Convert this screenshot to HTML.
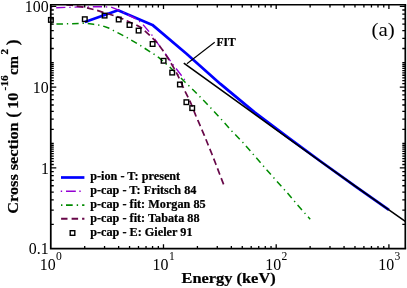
<!DOCTYPE html>
<html><head><meta charset="utf-8"><title>plot</title><style>html,body{margin:0;padding:0;background:#fff;overflow:hidden}body{width:407px;height:288px;position:relative}</style></head><body>
<svg width="407" height="288" viewBox="0 0 407 288" style="position:absolute;left:0;top:0;will-change:transform">
<rect width="407" height="288" fill="#fff"/>
<path d="M84.90 21.90 L118.00 10.30 L152.40 24.90 L186.50 53.70 L220.40 83.90 L254.40 112.10 L288.30 137.60 L322.20 162.50 L356.10 186.80 L388.90 209.80" fill="none" stroke="#0000ff" stroke-width="2.7" stroke-linejoin="round"/>
<path d="M184.75 79.95 L181.70 75.80 L175.90 68.30 L170.00 60.40 L165.50 54.00 L162.90 50.40 L158.25 44.10 L154.20 38.20 L151.60 34.60 L148.70 31.20 L142.40 23.90 L139.30 21.30 L133.60 17.60 L127.50 14.60 L123.50 12.30 L119.40 10.30 L110.80 7.10 L100.00 6.70 L85.00 6.90 L70.00 7.30 L50.90 7.90" fill="none" stroke="#9400d3" stroke-width="1.35" stroke-dasharray="1.31 3.92 9.16 3.92"/>
<path d="M310.20 219.20 L297.30 204.75 L287.40 193.00 L270.00 173.60 L250.00 150.60 L242.90 142.60 L231.70 130.90 L224.10 122.40 L213.60 110.90 L202.90 99.80 L192.20 88.90 L184.90 82.00 L174.70 71.60 L169.20 66.60 L158.90 57.60 L153.70 54.00 L139.70 45.10 L126.50 37.30 L118.50 33.20 L113.10 30.40 L108.60 28.00 L103.00 26.00 L98.50 25.10 L93.50 24.30 L84.80 23.20 L70.00 23.80 L50.90 24.10" fill="none" stroke="#008b00" stroke-width="1.5" stroke-dasharray="6.54 3.92 1.31 3.92" stroke-dashoffset="3.3"/>
<path d="M223.60 184.40 L219.70 174.30 L216.00 164.50 L212.20 154.80 L208.30 145.20 L204.40 135.60 L201.80 129.50 L200.60 126.60 L198.00 120.70 L195.90 115.90 L193.85 110.70 L191.25 104.20 L189.70 100.60 L188.00 97.20 L184.90 90.90 L182.80 86.25 L181.25 82.60 L179.00 77.90 L175.90 71.50 L174.40 68.90 L170.50 62.30 L165.50 54.40 L162.90 50.60 L157.00 42.60 L152.80 38.30 L149.20 34.80 L144.50 30.70 L140.90 27.50 L136.20 24.90 L125.70 20.40 L123.00 19.00 L117.10 16.60 L112.70 15.20 L107.90 13.70 L103.10 12.40 L96.50 10.20 L85.00 7.40 L71.50 5.20 L66.00 4.80" fill="none" stroke="#670748" stroke-width="1.7" stroke-dasharray="6.7 3.76"/>
<rect x="48.60" y="17.60" width="4.6" height="4.6" fill="none" stroke="#000" stroke-width="1.4"/>
<rect x="82.50" y="16.90" width="4.6" height="4.6" fill="none" stroke="#000" stroke-width="1.4"/>
<rect x="102.30" y="13.30" width="4.6" height="4.6" fill="none" stroke="#000" stroke-width="1.4"/>
<rect x="116.40" y="17.20" width="4.6" height="4.6" fill="none" stroke="#000" stroke-width="1.4"/>
<rect x="127.20" y="22.70" width="4.6" height="4.6" fill="none" stroke="#000" stroke-width="1.4"/>
<rect x="136.30" y="28.30" width="4.6" height="4.6" fill="none" stroke="#000" stroke-width="1.4"/>
<rect x="150.30" y="41.70" width="4.6" height="4.6" fill="none" stroke="#000" stroke-width="1.4"/>
<rect x="161.30" y="58.50" width="4.6" height="4.6" fill="none" stroke="#000" stroke-width="1.4"/>
<rect x="169.90" y="70.30" width="4.6" height="4.6" fill="none" stroke="#000" stroke-width="1.4"/>
<rect x="177.60" y="82.20" width="4.6" height="4.6" fill="none" stroke="#000" stroke-width="1.4"/>
<rect x="184.10" y="99.90" width="4.6" height="4.6" fill="none" stroke="#000" stroke-width="1.4"/>
<rect x="189.90" y="105.80" width="4.6" height="4.6" fill="none" stroke="#000" stroke-width="1.4"/>
<path d="M183.8 63.2 L230 96.4 L275 128.9 L320 161.1 L355 186.0 L380 203.6 L405.3 221.3" fill="none" stroke="#000" stroke-width="1.6"/>
<path d="M186.9 63.7 L214.7 42.3" fill="none" stroke="#000" stroke-width="1.1"/>
<path d="M49.93 4.80 H406.15" stroke="#000" stroke-width="1.6"/>
<path d="M49.93 248.60 H406.15" stroke="#000" stroke-width="1.75"/>
<path d="M50.78 4.80 V248.60" stroke="#000" stroke-width="1.75"/>
<path d="M405.30 4.80 V248.60" stroke="#000" stroke-width="1.7"/>
<path d="M84.71 248.60 v-2.70 M84.71 4.80 v2.70 M104.56 248.60 v-2.70 M104.56 4.80 v2.70 M118.64 248.60 v-2.70 M118.64 4.80 v2.70 M129.56 248.60 v-2.70 M129.56 4.80 v2.70 M138.49 248.60 v-2.70 M138.49 4.80 v2.70 M146.03 248.60 v-2.70 M146.03 4.80 v2.70 M152.57 248.60 v-2.70 M152.57 4.80 v2.70 M158.33 248.60 v-2.70 M158.33 4.80 v2.70 M163.49 248.60 v-4.30 M163.49 4.80 v4.30 M197.42 248.60 v-2.70 M197.42 4.80 v2.70 M217.27 248.60 v-2.70 M217.27 4.80 v2.70 M231.35 248.60 v-2.70 M231.35 4.80 v2.70 M242.27 248.60 v-2.70 M242.27 4.80 v2.70 M251.20 248.60 v-2.70 M251.20 4.80 v2.70 M258.74 248.60 v-2.70 M258.74 4.80 v2.70 M265.28 248.60 v-2.70 M265.28 4.80 v2.70 M271.04 248.60 v-2.70 M271.04 4.80 v2.70 M276.20 248.60 v-4.30 M276.20 4.80 v4.30 M310.13 248.60 v-2.70 M310.13 4.80 v2.70 M329.98 248.60 v-2.70 M329.98 4.80 v2.70 M344.06 248.60 v-2.70 M344.06 4.80 v2.70 M354.98 248.60 v-2.70 M354.98 4.80 v2.70 M363.91 248.60 v-2.70 M363.91 4.80 v2.70 M371.45 248.60 v-2.70 M371.45 4.80 v2.70 M377.99 248.60 v-2.70 M377.99 4.80 v2.70 M383.75 248.60 v-2.70 M383.75 4.80 v2.70 M388.91 248.60 v-4.30 M388.91 4.80 v4.30 M50.78 224.29 h3.00 M405.30 224.29 h-3.00 M50.78 210.06 h3.00 M405.30 210.06 h-3.00 M50.78 199.97 h3.00 M405.30 199.97 h-3.00 M50.78 192.14 h3.00 M405.30 192.14 h-3.00 M50.78 185.75 h3.00 M405.30 185.75 h-3.00 M50.78 180.34 h3.00 M405.30 180.34 h-3.00 M50.78 175.66 h3.00 M405.30 175.66 h-3.00 M50.78 171.53 h3.00 M405.30 171.53 h-3.00 M50.78 167.83 h5.50 M405.30 167.83 h-5.50 M50.78 164.49 h3.00 M405.30 164.49 h-3.00 M50.78 161.43 h3.00 M405.30 161.43 h-3.00 M50.78 158.63 h3.00 M405.30 158.63 h-3.00 M50.78 156.03 h3.00 M405.30 156.03 h-3.00 M50.78 153.61 h3.00 M405.30 153.61 h-3.00 M50.78 151.34 h3.00 M405.30 151.34 h-3.00 M50.78 149.22 h3.00 M405.30 149.22 h-3.00 M50.78 147.21 h3.00 M405.30 147.21 h-3.00 M50.78 145.32 h3.00 M405.30 145.32 h-3.00 M50.78 143.52 h3.00 M405.30 143.52 h-3.00 M50.78 129.29 h3.00 M405.30 129.29 h-3.00 M50.78 119.20 h3.00 M405.30 119.20 h-3.00 M50.78 111.37 h3.00 M405.30 111.37 h-3.00 M50.78 104.98 h3.00 M405.30 104.98 h-3.00 M50.78 99.57 h3.00 M405.30 99.57 h-3.00 M50.78 94.89 h3.00 M405.30 94.89 h-3.00 M50.78 90.76 h3.00 M405.30 90.76 h-3.00 M50.78 87.06 h5.50 M405.30 87.06 h-5.50 M50.78 83.72 h3.00 M405.30 83.72 h-3.00 M50.78 80.66 h3.00 M405.30 80.66 h-3.00 M50.78 77.86 h3.00 M405.30 77.86 h-3.00 M50.78 75.26 h3.00 M405.30 75.26 h-3.00 M50.78 72.84 h3.00 M405.30 72.84 h-3.00 M50.78 70.57 h3.00 M405.30 70.57 h-3.00 M50.78 68.45 h3.00 M405.30 68.45 h-3.00 M50.78 66.44 h3.00 M405.30 66.44 h-3.00 M50.78 64.55 h3.00 M405.30 64.55 h-3.00 M50.78 62.75 h3.00 M405.30 62.75 h-3.00 M50.78 48.52 h3.00 M405.30 48.52 h-3.00 M50.78 38.43 h3.00 M405.30 38.43 h-3.00 M50.78 30.60 h3.00 M405.30 30.60 h-3.00 M50.78 24.21 h3.00 M405.30 24.21 h-3.00 M50.78 18.80 h3.00 M405.30 18.80 h-3.00 M50.78 14.12 h3.00 M405.30 14.12 h-3.00 M50.78 9.99 h3.00 M405.30 9.99 h-3.00 M50.78 6.29 h5.50 M405.30 6.29 h-5.50" fill="none" stroke="#000" stroke-width="1.3"/>
<text x="48.70" y="11.80" font-size="15.90" text-anchor="end"  style="font-family:'Liberation Serif',serif" >100</text>
<text x="48.70" y="92.50" font-size="15.90" text-anchor="end"  style="font-family:'Liberation Serif',serif" >10</text>
<text x="48.90" y="173.50" font-size="15.90" text-anchor="end"  style="font-family:'Liberation Serif',serif" >1</text>
<text x="48.60" y="254.20" font-size="15.90" text-anchor="end"  style="font-family:'Liberation Serif',serif" >0.1</text>
<text x="39.80" y="269.60" font-size="15.90" text-anchor="start"  style="font-family:'Liberation Serif',serif" >10</text>
<text x="56.10" y="259.80" font-size="11.60" text-anchor="start"  style="font-family:'Liberation Serif',serif" >0</text>
<text x="152.60" y="269.60" font-size="15.90" text-anchor="start"  style="font-family:'Liberation Serif',serif" >10</text>
<text x="168.90" y="259.80" font-size="11.60" text-anchor="start"  style="font-family:'Liberation Serif',serif" >1</text>
<text x="265.30" y="269.60" font-size="15.90" text-anchor="start"  style="font-family:'Liberation Serif',serif" >10</text>
<text x="281.60" y="259.80" font-size="11.60" text-anchor="start"  style="font-family:'Liberation Serif',serif" >2</text>
<text x="378.30" y="269.60" font-size="15.90" text-anchor="start"  style="font-family:'Liberation Serif',serif" >10</text>
<text x="394.60" y="259.80" font-size="11.60" text-anchor="start"  style="font-family:'Liberation Serif',serif" >3</text>
<g transform="translate(228.6,283.4) scale(1.05,1)">
<text x="0.00" y="0.00" font-size="15.60" text-anchor="middle" font-weight="bold" stroke="#000" stroke-width="0.22" style="font-family:'Liberation Serif',serif" >Energy (keV)</text>
</g>
<g transform="translate(371.5,35.6) scale(1.07,1)">
<text x="0.00" y="0.00" font-size="19.60" text-anchor="start"  style="font-family:'Liberation Serif',serif" >(a)</text>
</g>
<text x="216.40" y="45.70" font-size="11.60" text-anchor="start" font-weight="bold" stroke="#000" stroke-width="0.22" style="font-family:'Liberation Serif',serif" >FIT</text>
<path d="M61 177.5 H84.4" stroke="#0000ff" stroke-width="2.7"/>
<path d="M60.75 191.2 h1.4 M66 191.2 h9.8 M79.3 191.2 h1.4" stroke="#9400d3" stroke-width="1.5"/>
<path d="M61 205.1 h1.4 M66 205.1 h6.7 M76.7 205.1 h1.4 M82.1 205.1 h2.3" stroke="#008b00" stroke-width="1.6"/>
<path d="M61.1 218.8 h6.4 M71.6 218.8 h6.5 M82.1 218.8 h2.3" stroke="#670748" stroke-width="2"/>
<rect x="70.2" y="230.7" width="4.6" height="4.6" fill="none" stroke="#000" stroke-width="1.4"/>
<g transform="translate(90.2,180.30) scale(1.019,1)">
<text x="0.00" y="0.00" font-size="12.00" text-anchor="start" font-weight="bold" stroke="#000" stroke-width="0.22" style="font-family:'Liberation Serif',serif" >p-ion - T: present</text>
</g>
<g transform="translate(90.2,194.10) scale(1.019,1)">
<text x="0.00" y="0.00" font-size="12.00" text-anchor="start" font-weight="bold" stroke="#000" stroke-width="0.22" style="font-family:'Liberation Serif',serif" >p-cap - T: Fritsch 84</text>
</g>
<g transform="translate(90.2,207.80) scale(1.019,1)">
<text x="0.00" y="0.00" font-size="12.00" text-anchor="start" font-weight="bold" stroke="#000" stroke-width="0.22" style="font-family:'Liberation Serif',serif" >p-cap - fit: Morgan 85</text>
</g>
<g transform="translate(90.2,221.60) scale(1.019,1)">
<text x="0.00" y="0.00" font-size="12.00" text-anchor="start" font-weight="bold" stroke="#000" stroke-width="0.22" style="font-family:'Liberation Serif',serif" >p-cap - fit: Tabata 88</text>
</g>
<g transform="translate(90.2,235.60) scale(1.019,1)">
<text x="0.00" y="0.00" font-size="12.00" text-anchor="start" font-weight="bold" stroke="#000" stroke-width="0.22" style="font-family:'Liberation Serif',serif" >p-cap - E: Gieler 91</text>
</g>
<g transform="translate(18.3,213.7) rotate(-90)" font-weight="bold" stroke="#000" stroke-width="0.22" style="font-family:'Liberation Serif',serif">
<text transform="translate(0.00,0) scale(1.042,1)" font-size="15.6">Cross section</text>
<text x="96.0" y="-0.7" font-size="17.2">(</text>
<text transform="translate(104.9,0) scale(1.042,1)" font-size="15.6">10</text>
<text x="123.30" y="-10.2" font-size="11.4">-16</text>
<text transform="translate(138.60,0) scale(0.960,1)" font-size="15.6">cm</text>
<text x="159.20" y="-10.2" font-size="11">2</text>
<text x="168.40" y="-0.7" font-size="17.2">)</text>
</g>
</svg>
</body></html>
